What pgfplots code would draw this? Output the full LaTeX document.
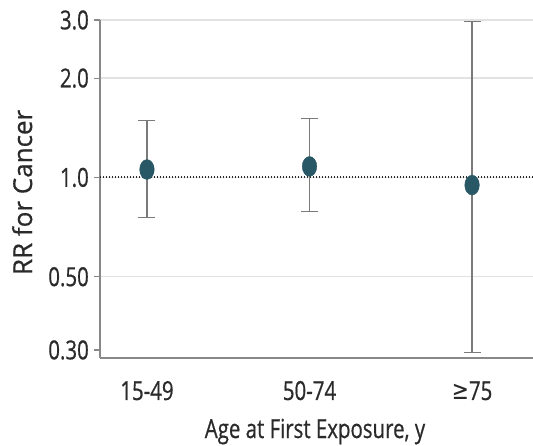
\documentclass[border=0pt]{standalone}
\usepackage{fontspec}
\setmainfont{Open Sans}[FakeBold=0.6]
\newfontfamily\narrowfont[FakeStretch=0.78,FakeBold=0.6]{Open Sans}
\newfontfamily\symfont[FakeStretch=0.78]{DejaVu Sans}
\usepackage{pgfplots}
\pgfplotsset{compat=1.18}
\definecolor{markcol}{RGB}{40,88,102}
\definecolor{axiscol}{HTML}{888888}
\definecolor{errcol}{HTML}{7A7A7A}
\definecolor{gridcol}{HTML}{E2E2E2}
\definecolor{textcol}{HTML}{2A2A2A}
\begin{document}
\begin{tikzpicture}
\begin{axis}[name=ax, scale only axis, width=433bp, height=338bp,
  xmin=-0.289, xmax=2.375, ymode=log, ymin=0.2837, ymax=3.0,
  axis x line*=bottom, axis y line*=left,
  axis line style={draw=axiscol, line width=1.1bp},
  xtick={0,1,2}, xticklabels={15-49,50-74,{\symfont ≥}75},
  major x tick style={draw=none},
  ytick={0.5,1,2,3}, yticklabels={0.50,1.0,2.0,3.0},
  extra y ticks={0.3}, extra y tick labels={0.30}, extra y tick style={grid=none},
  yminorticks=false,
  ymajorgrids, grid style={gridcol, line width=1.3bp},
  tick align=outside, major tick length=6bp,
  y tick style={axiscol, line width=1.1bp},
  tick label style={font=\narrowfont\fontsize{26.2bp}{31bp}\selectfont, text=textcol},
  xticklabel style={anchor=base, yshift=-36bp},
  yticklabel style={anchor=east, inner sep=0pt, xshift=-5bp},
  xlabel={Age at First Exposure, y},
  ylabel={RR for Cancer},
  xlabel style={font=\narrowfont\fontsize{26.2bp}{31bp}\selectfont, text=textcol, at={(axis description cs:0.4965,-0.2367)}, anchor=base},
  ylabel style={font=\fontsize{26bp}{31bp}\selectfont, text=textcol, at={(axis description cs:-0.157,0.49)}, anchor=base, rotate=0},
  clip=false]
\addplot[textcol, line width=2.0bp, dash pattern=on 1.5bp off 1.5bp] coordinates {(-0.289,1) (2.375,1)};
\addplot[errcol, line width=1.3bp, mark=-, mark size=8.5bp] coordinates {(0,0.758) (0,1.49)};
\addplot[errcol, line width=1.3bp, mark=-, mark size=8.5bp] coordinates {(1,0.789) (1,1.51)};
\addplot[errcol, line width=1.3bp, mark=-, mark size=8.5bp] coordinates {(2,0.295) (2,2.97)};
\addplot[only marks, mark=*, mark size=7.3bp, mark options={fill=markcol, draw=markcol, yscale=1.36}] coordinates {(0,1.057) (1,1.08) (2,0.948)};
\end{axis}
\pgfresetboundingbox
\path ([shift={(-100bp,-88bp)}]ax.south west) rectangle ([shift={(0bp,20bp)}]ax.north east);
\end{tikzpicture}
\end{document}
